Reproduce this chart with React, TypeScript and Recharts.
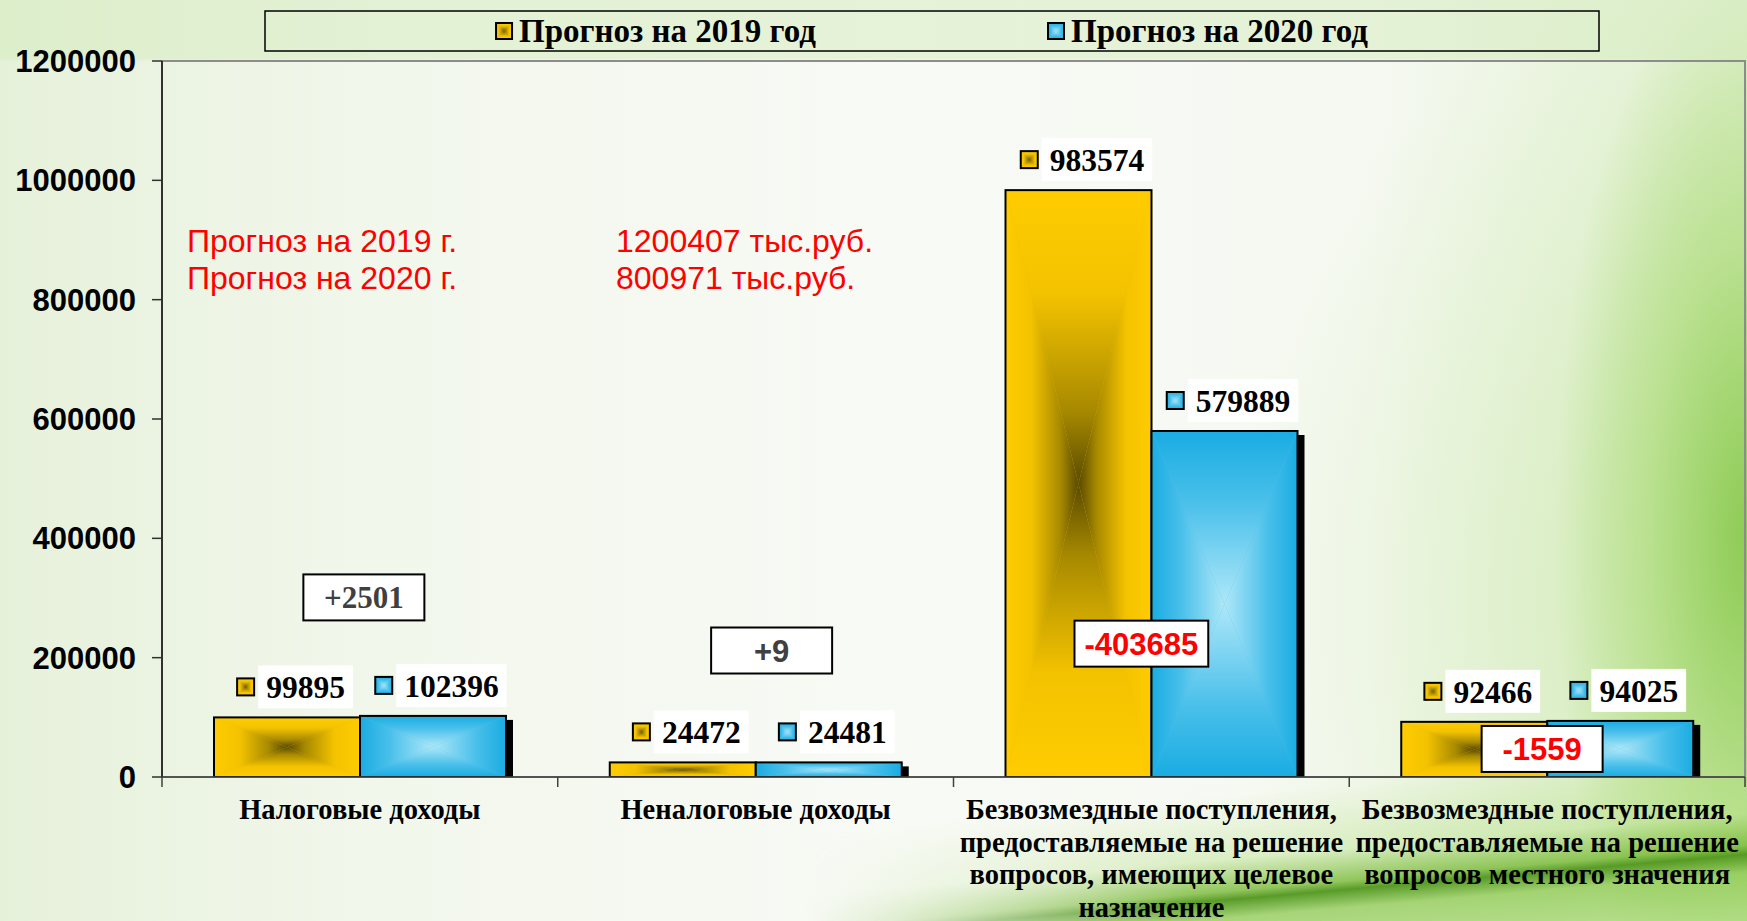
import React from 'react';
import { BarChart, Bar, XAxis, YAxis, LabelList, ReferenceDot, ReferenceArea } from 'recharts';

// ---------- data ----------
const categories = [
  'Налоговые доходы',
  'Неналоговые доходы',
  'Безвозмездные поступления (целевое назначение)',
  'Безвозмездные поступления (местного значения)',
];
const categoryLabelLines = [
  ['Налоговые доходы'],
  ['Неналоговые доходы'],
  ['Безвозмездные поступления,', 'предоставляемые на решение', 'вопросов, имеющих целевое', 'назначение'],
  ['Безвозмездные поступления,', 'предоставляемые на решение', 'вопросов местного значения'],
];
const forecast2019 = [99895, 24472, 983574, 92466];
const forecast2020 = [102396, 24481, 579889, 94025];
const differenceLabels = ['+2501', '+9', '-403685', '-1559'];
const seriesNames = ['Прогноз на 2019 год', 'Прогноз на 2020 год'];
const yTicks = [0, 200000, 400000, 600000, 800000, 1000000, 1200000];
const totalsTitles = ['Прогноз на 2019 г.', 'Прогноз на 2020 г.'];
const totalsValues = ['1200407 тыс.руб.', '800971 тыс.руб.'];

const data = categories.map((name, i) => ({ name, y2019: forecast2019[i], y2020: forecast2020[i] }));

// annotation anchors (value units on the y axis) and horizontal nudges
const diffAnchors = [301000, 212000, 223500, 47000];
const diffNudge = [4, 16, -10, -5];

// ---------- styles ----------
const SERIF = '"Liberation Serif", "Times New Roman", serif';
const SANS = '"Liberation Sans", Arial, sans-serif';
const VALUE_FONT_SIZE = 31.5;

const palettes: Record<string, [number, string][]> = {
  gold: [[0, '#FFCC00'], [0.35, '#F4C300'], [0.75, '#A88A00'], [1, '#5A4A00']],
  blue: [[0, '#1AACE2'], [0.4, '#48BFEA'], [1, '#AEE7F8']],
};
const baseColor: Record<string, string> = { gold: '#E8BA00', blue: '#4CC0EA' };

let measureCtx: CanvasRenderingContext2D | null = null;
function measure(text: string, font: string) {
  if (!measureCtx) measureCtx = document.createElement('canvas').getContext('2d');
  if (!measureCtx) return text.length * 15;
  measureCtx.font = font;
  return measureCtx.measureText(text).width;
}

function GradientDefs() {
  const dirs: Record<string, number[]> = { T: [0, 0, 0, 1], B: [0, 1, 0, 0], L: [0, 0, 1, 0], R: [1, 0, 0, 0] };
  const out: any[] = [];
  Object.keys(palettes).forEach((k) => {
    Object.keys(dirs).forEach((d) => {
      const [x1, y1, x2, y2] = dirs[d];
      out.push(
        <linearGradient key={k + d} id={`rg-${k}-${d}`} x1={x1} y1={y1} x2={x2} y2={y2}>
          {palettes[k].map(([o, c], j) => (
            <stop key={j} offset={o} stopColor={c} />
          ))}
        </linearGradient>
      );
    });
  });
  return <defs>{out}</defs>;
}

// rectangular ("path") gradient made of four triangles
function RectGrad({ x, y, w, h, k }: { x: number; y: number; w: number; h: number; k: string }) {
  if (!(w > 0) || !(h > 0)) return null;
  const cx = x + w / 2;
  const cy = y + h / 2;
  return (
    <g>
      <rect x={x} y={y} width={w} height={h} fill={baseColor[k]} />
      <polygon points={`${x},${y} ${x + w},${y} ${cx},${cy}`} fill={`url(#rg-${k}-T)`} />
      <polygon points={`${x},${y + h} ${x + w},${y + h} ${cx},${cy}`} fill={`url(#rg-${k}-B)`} />
      <polygon points={`${x},${y} ${x},${y + h} ${cx},${cy}`} fill={`url(#rg-${k}-L)`} />
      <polygon points={`${x + w},${y} ${x + w},${y + h} ${cx},${cy}`} fill={`url(#rg-${k}-R)`} />
    </g>
  );
}

function makeBarShape(k: string, shadow: boolean) {
  return (props: any) => {
    const x = Number(props.x), y = Number(props.y), w = Number(props.width), h = Number(props.height);
    if (!(h > 0)) return <g />;
    return (
      <g>
        {shadow && <rect x={x + w} y={y + 4} width={7} height={h - 4} fill="#000" />}
        <RectGrad x={x} y={y} w={w} h={h} k={k} />
        <rect x={x} y={y} width={w} height={h} fill="none" stroke="#000" strokeWidth={2} />
      </g>
    );
  };
}

function makeValueLabel(k: string) {
  return (props: any) => {
    const x = Number(props.x), y = Number(props.y), w = Number(props.width);
    const text = String(props.value);
    const tw = measure(text, `bold ${VALUE_FONT_SIZE}px ${SERIF}`);
    const boxW = tw + 16;
    const boxH = 43;
    const groupW = 17 + 4 + boxW;
    const gx = x + w / 2 + 8 - groupW / 2;
    const boxTop = y - 9 - boxH;
    const my = boxTop + boxH / 2 - 8.5;
    return (
      <g>
        <RectGrad x={gx} y={my} w={17} h={17} k={k} />
        <rect x={gx} y={my} width={17} height={17} fill="none" stroke="#000" strokeWidth={2} />
        <rect x={gx + 21} y={boxTop} width={boxW} height={boxH} fill="#fff" />
        <text
          x={gx + 21 + boxW / 2}
          y={boxTop + boxH / 2 + 11.5}
          textAnchor="middle"
          fontFamily={SERIF}
          fontWeight={700}
          fontSize={VALUE_FONT_SIZE}
          fill="#000"
        >
          {text}
        </text>
      </g>
    );
  };
}

const diffStyles = [
  { family: SERIF, color: '#404040' },
  { family: SANS, color: '#404040' },
  { family: SANS, color: '#FF0000' },
  { family: SANS, color: '#FF0000' },
];

function DiffBox(props: any) {
  const i = props.idx as number;
  const cx = Number(props.cx) + diffNudge[i];
  const cy = Number(props.cy);
  const st = diffStyles[i];
  const fs = 31;
  const text = differenceLabels[i];
  const tw = measure(text, `bold ${fs}px ${st.family}`);
  const w = Math.max(121, tw + 20);
  const h = 46;
  return (
    <g>
      <rect x={cx - w / 2} y={cy - h / 2} width={w} height={h} fill="#fff" stroke="#000" strokeWidth={2} />
      <text x={cx} y={cy + 11} textAnchor="middle" fontFamily={st.family} fontWeight={700} fontSize={fs} fill={st.color}>
        {text}
      </text>
    </g>
  );
}

const CHART_W = 1747;
const CHART_H = 921;
const Y_AXIS_W = 162;
const RIGHT_MARGIN = 2;

function CategoryTick(props: any) {
  const { x, y, payload } = props;
  const idx = typeof props.index === 'number' ? props.index : categories.indexOf(payload?.value);
  const lines = categoryLabelLines[idx] || [String(payload?.value)];
  const fallbackHalf = (CHART_W - Y_AXIS_W - RIGHT_MARGIN) / categories.length / 2;
  const half = payload && payload.offset ? Number(payload.offset) : fallbackHalf;
  const isLast = idx === categories.length - 1;
  return (
    <g>
      <line x1={x - half} y1={y - 10} x2={x - half} y2={y} stroke="#404040" strokeWidth={1.5} />
      {isLast && <line x1={x + half} y1={y - 10} x2={x + half} y2={y} stroke="#404040" strokeWidth={1.5} />}
      {lines.map((ln: string, j: number) => (
        <text
          key={j}
          x={x}
          y={y + 32 + j * 32.5}
          textAnchor="middle"
          fontFamily={SERIF}
          fontWeight={700}
          fontSize={28.5}
          fill="#000"
        >
          {ln}
        </text>
      ))}
    </g>
  );
}

function Overlay() {
  const LEGEND_FS = 33;
  const legendFont = `bold ${LEGEND_FS}px ${SERIF}`;
  const boxX = 265, boxY = 11, boxW = 1334, boxH = 40;
  const widths = seriesNames.map((n) => 16 + 7 + measure(n, legendFont));
  const gap = 232;
  const total = widths[0] + widths[1] + gap;
  let cursor = boxX + (boxW - total) / 2;
  const keys = ['gold', 'blue'];
  return (
    <svg width={CHART_W} height={CHART_H} style={{ position: 'absolute', left: 0, top: 0, pointerEvents: 'none' }}>
      <GradientDefs />
      <rect x={boxX} y={boxY} width={boxW} height={boxH} fill="none" stroke="#000" strokeWidth={1.5} />
      {seriesNames.map((n, i) => {
        const sx = cursor;
        cursor += widths[i] + gap;
        return (
          <g key={n}>
            <RectGrad x={sx} y={boxY + 12} w={16} h={16} k={keys[i]} />
            <rect x={sx} y={boxY + 12} width={16} height={16} fill="none" stroke="#000" strokeWidth={2} />
            <text x={sx + 23} y={boxY + 31} fontFamily={SERIF} fontWeight={700} fontSize={LEGEND_FS} fill="#000">
              {n}
            </text>
          </g>
        );
      })}
      {totalsTitles.map((t, i) => (
        <g key={t}>
          <text x={187} y={252 + i * 37} fontFamily={SANS} fontSize={32} fill="#FF0000">
            {t}
          </text>
          <text x={616} y={252 + i * 37} fontFamily={SANS} fontSize={32} fill="#FF0000">
            {totalsValues[i]}
          </text>
        </g>
      ))}
    </svg>
  );
}

const background = [
  'linear-gradient(to bottom, rgba(214,236,192,0.55) 0px, rgba(214,236,192,0.55) 58px, rgba(255,255,255,0) 62px)',
  'radial-gradient(ellipse 11% 62% at 100% 58%, rgba(135,200,75,0.9) 0%, rgba(165,216,110,0.6) 50%, rgba(255,255,255,0) 100%)',
  'radial-gradient(ellipse 30% 70% at 100% 65%, rgba(190,228,150,0.55) 0%, rgba(255,255,255,0) 100%)',
  'linear-gradient(90deg, #E6F1DA 0%, #F2F7EC 22%, #F8FAF5 50%, #F6F9F2 78%, #E3F1D3 100%)',
].join(',');

const swoosh =
  'linear-gradient(175deg, rgba(255,255,255,0) 0%, rgba(255,255,255,0) 84%, rgba(185,225,140,0.45) 90%, rgba(120,185,55,0.8) 93%, rgba(80,150,30,0.95) 93.8%, rgba(140,200,80,0.75) 95.5%, rgba(165,215,115,0.65) 100%)';
const swooshMask = 'linear-gradient(to right, rgba(0,0,0,0) 46%, rgba(0,0,0,1) 68%)';

export default function App() {
  return (
    <div
      style={{
        position: 'absolute',
        left: 0,
        top: 0,
        width: CHART_W,
        height: CHART_H,
        background,
        overflow: 'hidden',
      }}
    >
      <div
        style={{
          position: 'absolute',
          left: 0,
          top: 0,
          width: CHART_W,
          height: CHART_H,
          background: swoosh,
          WebkitMaskImage: swooshMask,
          maskImage: swooshMask,
        }}
      />
      <div style={{ position: 'absolute', left: 0, top: 0 }}>
        <BarChart
          width={CHART_W}
          height={CHART_H}
          data={data}
          margin={{ top: 61, right: RIGHT_MARGIN, left: 0, bottom: 0 }}
          barCategoryGap={52}
          barGap={0}
        >
          <ReferenceArea y1={0} y2={1200000} fill="none" stroke="#8C8C8C" strokeWidth={2} />
          <XAxis
            dataKey="name"
            height={144}
            interval={0}
            axisLine={{ stroke: '#404040', strokeWidth: 1.5 }}
            tickLine={false}
            tickSize={10}
            tickMargin={0}
            tick={<CategoryTick />}
          />
          <YAxis
            width={Y_AXIS_W}
            domain={[0, 1200000]}
            ticks={yTicks}
            interval={0}
            allowDataOverflow
            tickSize={10}
            tickMargin={16}
            axisLine={{ stroke: '#303030', strokeWidth: 2 }}
            tickLine={{ stroke: '#303030', strokeWidth: 1.5 }}
            tick={{ fontFamily: SANS, fontSize: 31, fontWeight: 700, fill: '#000' }}
          />
          <Bar dataKey="y2019" name={seriesNames[0]} shape={makeBarShape('gold', false)} isAnimationActive={false}>
            <LabelList dataKey="y2019" content={makeValueLabel('gold')} />
          </Bar>
          <Bar dataKey="y2020" name={seriesNames[1]} shape={makeBarShape('blue', true)} isAnimationActive={false}>
            <LabelList dataKey="y2020" content={makeValueLabel('blue')} />
          </Bar>
          {differenceLabels.map((t, i) => (
            <ReferenceDot
              key={t}
              x={categories[i]}
              y={diffAnchors[i]}
              r={1}
              shape={(p: any) => <DiffBox {...p} idx={i} />}
            />
          ))}
        </BarChart>
      </div>
      <Overlay />
    </div>
  );
}
